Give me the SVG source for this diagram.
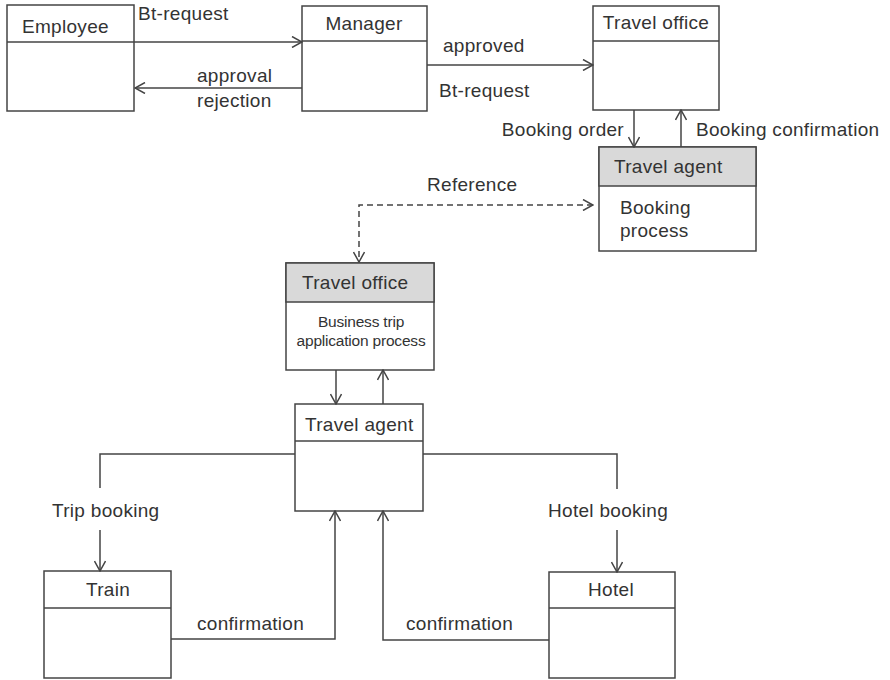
<svg xmlns="http://www.w3.org/2000/svg" width="890" height="680" viewBox="0 0 890 680">
<style>
text{font-family:"Liberation Sans",Arial,sans-serif;font-size:19px;fill:#333;letter-spacing:0.3px}
.small{font-size:15.5px;letter-spacing:-0.2px}
.box{fill:#fff;stroke:#444;stroke-width:1.5}
.hdr{fill:#d9d9d9;stroke:#444;stroke-width:1.5}
.sep{stroke:#444;stroke-width:1.5}
.c{fill:none;stroke:#444;stroke-width:1.5}
.dash{stroke-dasharray:6 4}
</style>
<defs>
<marker id="arr" viewBox="0 0 12 12" refX="11" refY="6" markerWidth="12" markerHeight="12" markerUnits="userSpaceOnUse" orient="auto-start-reverse">
<path d="M1,0.5 L11,6 L1,11.5" fill="none" stroke="#444" stroke-width="1.5"/>
</marker>
</defs>
<rect width="890" height="680" fill="#fff"/>

<g id="employee">
<rect class="box" x="7" y="5" width="127" height="106"/>
<line class="sep" x1="7" y1="42" x2="134" y2="42"/>
<text x="22" y="33">Employee</text>
</g>
<g id="manager">
<rect class="box" x="302" y="6" width="125" height="105"/>
<line class="sep" x1="302" y1="41" x2="427" y2="41"/>
<text x="364" y="30" text-anchor="middle">Manager</text>
</g>
<g id="travel-office-top">
<rect class="box" x="593" y="6" width="126" height="104"/>
<line class="sep" x1="593" y1="41" x2="719" y2="41"/>
<text x="656" y="29" text-anchor="middle">Travel office</text>
</g>
<g id="travel-agent-top">
<rect class="box" x="599" y="147" width="157" height="104"/>
<rect class="hdr" x="599" y="147" width="157" height="39"/>
<text x="614" y="173">Travel agent</text>
<text x="620" y="214">Booking</text>
<text x="620" y="237">process</text>
</g>
<g id="travel-office-mid">
<rect class="box" x="286" y="263" width="148" height="107"/>
<rect class="hdr" x="286" y="263" width="148" height="39"/>
<text x="302" y="289">Travel office</text>
<text class="small" x="361" y="327" text-anchor="middle">Business trip</text>
<text class="small" x="361" y="346" text-anchor="middle">application process</text>
</g>
<g id="travel-agent-mid">
<rect class="box" x="295" y="404" width="128" height="107"/>
<line class="sep" x1="295" y1="441" x2="423" y2="441"/>
<text x="305" y="431">Travel agent</text>
</g>
<g id="train">
<rect class="box" x="44" y="571" width="127" height="107"/>
<line class="sep" x1="44" y1="608" x2="171" y2="608"/>
<text x="108" y="596" text-anchor="middle">Train</text>
</g>
<g id="hotel">
<rect class="box" x="549" y="572" width="126" height="106"/>
<line class="sep" x1="549" y1="608" x2="675" y2="608"/>
<text x="611" y="596" text-anchor="middle">Hotel</text>
</g>

<g id="connectors">
<path class="c" d="M134,42 L302,42" marker-end="url(#arr)"/>
<path class="c" d="M302,88 L135,88" marker-end="url(#arr)"/>
<path class="c" d="M427,65 L593,65" marker-end="url(#arr)"/>
<path class="c" d="M634,110 L634,147" marker-end="url(#arr)"/>
<path class="c" d="M681,147 L681,110" marker-end="url(#arr)"/>
<path class="c dash" d="M593,205 L359,205 L359,262" marker-start="url(#arr)" marker-end="url(#arr)"/>
<path class="c" d="M336,370 L336,404" marker-end="url(#arr)"/>
<path class="c" d="M383,404 L383,370" marker-end="url(#arr)"/>
<path class="c" d="M295,454 L100,454 L100,488"/>
<path class="c" d="M100,530 L100,571" marker-end="url(#arr)"/>
<path class="c" d="M423,454 L617,454 L617,489"/>
<path class="c" d="M617,530 L617,572" marker-end="url(#arr)"/>
<path class="c" d="M171,639 L335,639 L335,511" marker-end="url(#arr)"/>
<path class="c" d="M549,640 L383,640 L383,511" marker-end="url(#arr)"/>
<text x="138" y="20">Bt-request</text>
<text x="197" y="82">approval</text>
<text x="197" y="107">rejection</text>
<text x="443" y="52">approved</text>
<text x="439" y="97">Bt-request</text>
<text x="624" y="136" text-anchor="end">Booking order</text>
<text x="696" y="136">Booking confirmation</text>
<text x="427" y="191">Reference</text>
<text x="52" y="517">Trip booking</text>
<text x="548" y="517">Hotel booking</text>
<text x="197" y="630">confirmation</text>
<text x="406" y="630">confirmation</text>
</g>
</svg>
